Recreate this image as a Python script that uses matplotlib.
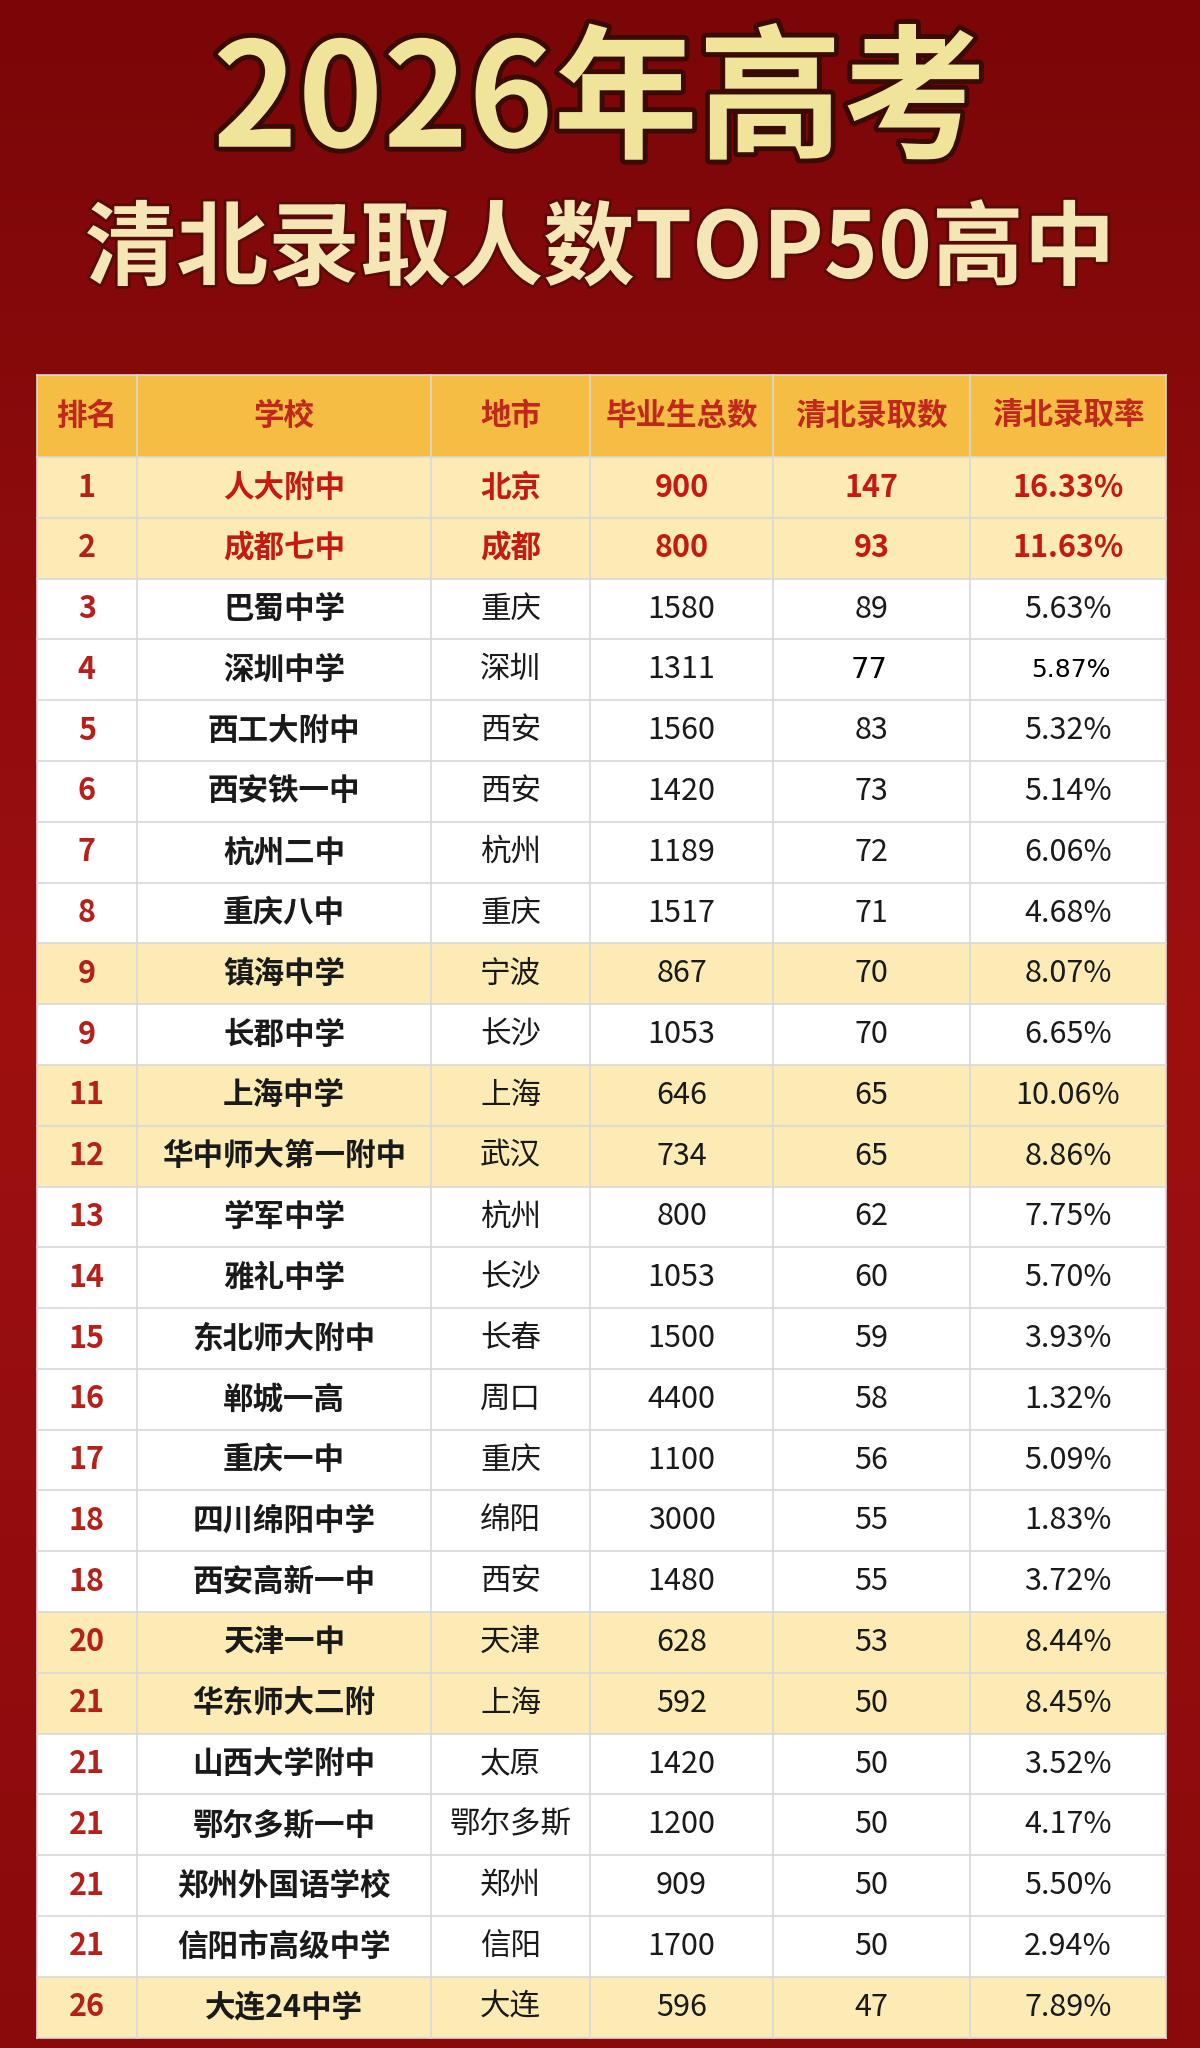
import matplotlib
matplotlib.use("Agg")
import matplotlib.pyplot as plt
import numpy as np
from matplotlib.patches import Rectangle
import matplotlib.patheffects as pe

plt.rcParams['font.family'] = ['Noto Sans CJK SC', 'DejaVu Sans']

# ---- data ----
title = "2026年高考"
subtitle = "清北录取人数TOP50高中"
headers = ["排名", "学校", "地市", "毕业生总数", "清北录取数", "清北录取率"]
ranks = [1, 2, 3, 4, 5, 6, 7, 8, 9, 9, 11, 12, 13, 14, 15, 16, 17, 18, 18, 20, 21, 21, 21, 21, 21, 26]
schools = ["人大附中", "成都七中", "巴蜀中学", "深圳中学", "西工大附中", "西安铁一中", "杭州二中",
           "重庆八中", "镇海中学", "长郡中学", "上海中学", "华中师大第一附中", "学军中学", "雅礼中学",
           "东北师大附中", "郸城一高", "重庆一中", "四川绵阳中学", "西安高新一中", "天津一中",
           "华东师大二附", "山西大学附中", "鄂尔多斯一中", "郑州外国语学校", "信阳市高级中学", "大连24中学"]
cities = ["北京", "成都", "重庆", "深圳", "西安", "西安", "杭州", "重庆", "宁波", "长沙", "上海", "武汉",
          "杭州", "长沙", "长春", "周口", "重庆", "绵阳", "西安", "天津", "上海", "太原", "鄂尔多斯",
          "郑州", "信阳", "大连"]
graduates = [900, 800, 1580, 1311, 1560, 1420, 1189, 1517, 867, 1053, 646, 734, 800, 1053, 1500,
             4400, 1100, 3000, 1480, 628, 592, 1420, 1200, 909, 1700, 596]
admitted = [147, 93, 89, 77, 83, 73, 72, 71, 70, 70, 65, 65, 62, 60, 59, 58, 56, 55, 55, 53, 50,
            50, 50, 50, 50, 47]
rates = ["16.33%", "11.63%", "5.63%", "5.87%", "5.32%", "5.14%", "6.06%", "4.68%", "8.07%", "6.65%",
         "10.06%", "8.86%", "7.75%", "5.70%", "3.93%", "1.32%", "5.09%", "1.83%", "3.72%", "8.44%",
         "8.45%", "3.52%", "4.17%", "5.50%", "2.94%", "7.89%"]
highlight = [0, 1, 8, 10, 11, 19, 20, 25]   # row indices with yellow background
top_rows = [0, 1]                          # red school/city text

# ---- layout (reference pixel frame 919 x 1568) ----
W, H = 919, 1568
col_x = [28, 105, 330, 452, 592, 743, 893]
head_top, head_bot = 287, 350
row_h = (1560 - head_bot) / len(ranks)

fig = plt.figure(figsize=(12, 20.48), dpi=100)
ax = fig.add_axes([0, 0, 1, 1])
ax.set_xlim(0, W)
ax.set_ylim(H, 0)
ax.axis("off")

# background gradient
grad = np.linspace(0, 1, 256).reshape(-1, 1)
ax.imshow(grad, extent=[0, W, H, 0], cmap=matplotlib.colors.LinearSegmentedColormap.from_list(
    "bg", ["#7a0608", "#9e1010", "#8a0a0c"]), aspect="auto", zorder=0)

outline = [pe.withStroke(linewidth=7, foreground="#3a0a05")]
ax.text(W / 2, 80, title, ha="center", va="center", fontsize=104, fontweight="bold",
        color="#efe49a", path_effects=outline, zorder=3)
ax.text(W / 2, 192, subtitle, ha="center", va="center", fontsize=66, fontweight="bold",
        color="#f5e7b5", path_effects=[pe.withStroke(linewidth=4, foreground="#5a0a08")], zorder=3)

# header
ax.add_patch(Rectangle((col_x[0], head_top), col_x[-1] - col_x[0], head_bot - head_top,
                       facecolor="#f6bd45", edgecolor="none", zorder=1))
for i, h in enumerate(headers):
    cx = (col_x[i] + col_x[i + 1]) / 2
    ax.text(cx, (head_top + head_bot) / 2, h, ha="center", va="center", fontsize=22,
            fontweight="bold", color="#c0281c", zorder=3)

fs = 22
for r in range(len(ranks)):
    y0 = head_bot + r * row_h
    yc = y0 + row_h / 2
    bg = "#fdebb5" if r in highlight else "white"
    ax.add_patch(Rectangle((col_x[0], y0), col_x[-1] - col_x[0], row_h,
                           facecolor=bg, edgecolor="none", zorder=1))
    red = r in top_rows
    txt_col = "#c41a12" if red else "#1a1a1a"
    vals = [str(ranks[r]), schools[r], cities[r], str(graduates[r]), str(admitted[r]), rates[r]]
    for c, v in enumerate(vals):
        cx = (col_x[c] + col_x[c + 1]) / 2
        color = "#b5201a" if c == 0 else txt_col
        weight = "bold" if (c in (0, 1) or red) else "normal"
        if r == 3 and c >= 4:
            ax.text(cx + (-2 if c == 4 else 2), yc, v, ha="center", va="center",
                    fontsize=21 if c == 4 else 18,
                    family="DejaVu Sans", color="#000000", zorder=3)
            continue
        ax.text(cx, yc, v, ha="center", va="center", fontsize=fs, fontweight=weight,
                color=color, zorder=3)

# grid lines
y_lines = [head_top, head_bot] + [head_bot + (r + 1) * row_h for r in range(len(ranks))]
for y in y_lines:
    ax.plot([col_x[0], col_x[-1]], [y, y], color="#d8d8d8", lw=1.2, zorder=2)
for x in col_x:
    ax.plot([x, x], [head_top, y_lines[-1]], color="#d8d8d8", lw=1.2, zorder=2)

fig.savefig("out.png", dpi=100, facecolor="#8a0a0c")
